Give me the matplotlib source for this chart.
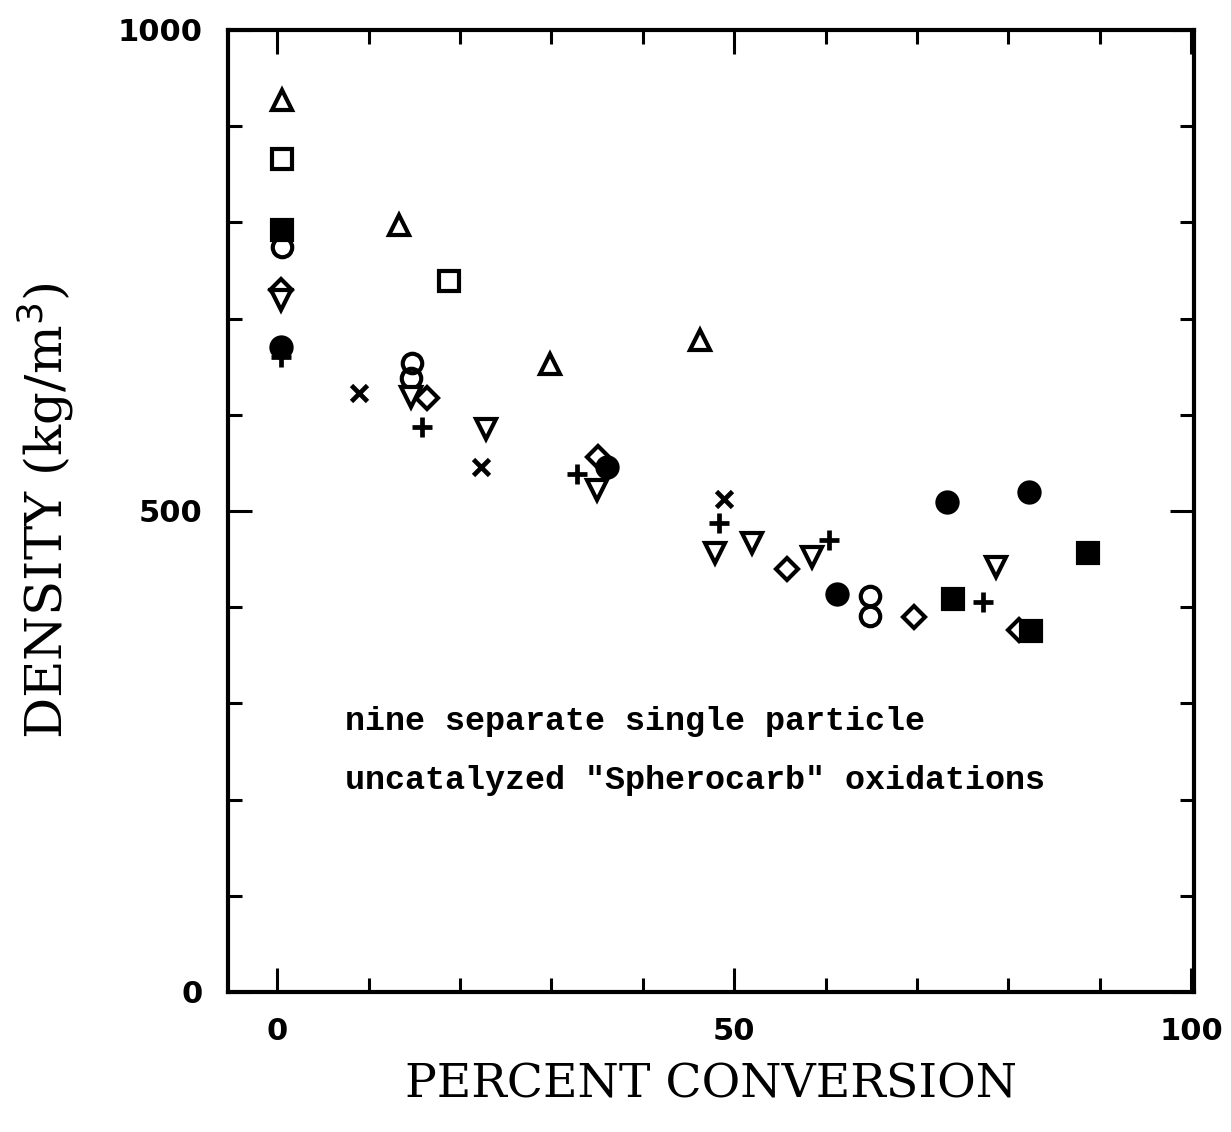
import matplotlib
matplotlib.use("Agg")
import matplotlib.pyplot as plt
from matplotlib.ticker import MultipleLocator, FixedLocator

# ---- data ----
tri_up_x = [0.5, 13.3, 29.9, 46.3]
tri_up_y = [927, 797, 653, 678]

sq_open_x = [0.5, 18.8]
sq_open_y = [866, 739]

sq_fill_x = [0.5, 73.9, 82.5, 88.7]
sq_fill_y = [792, 409, 375, 456]

circ_open_x = [0.5, 14.8, 14.7, 64.9, 64.9]
circ_open_y = [774, 654, 638, 412, 391]

diamond_x = [0.4, 16.4, 35.1, 55.8, 69.7, 81.2]
diamond_y = [730, 617, 556, 440, 390, 376]

tri_dn_x = [0.4, 14.6, 22.9, 35.0, 47.9, 51.9, 58.5, 78.6]
tri_dn_y = [719, 619, 585, 522, 456, 467, 452, 442]

circ_fill_x = [0.4, 36.1, 61.2, 73.3, 82.2]
circ_fill_y = [670, 546, 414, 509, 520]

cross_x = [9.0, 22.3, 48.9]
cross_y = [623, 546, 512]

plus_x = [0.4, 15.9, 32.8, 48.3, 60.4, 77.2]
plus_y = [660, 587, 538, 487, 470, 405]

x_ticklabels = ["0", "50", "100"]
y_ticklabels = ["0", "500", "1000"]
note_lines = ["nine separate single particle",
              "uncatalyzed \"Spherocarb\" oxidations"]

fig = plt.figure(figsize=(12.31, 11.32), dpi=100)
ax = fig.add_axes([0.185, 0.1237, 0.785, 0.8498])

ew = 3.0
common = dict(linestyle="none", color="black", markeredgewidth=ew)
ax.plot(tri_up_x, tri_up_y, marker="^", markersize=14.5, markerfacecolor="white", **common)
ax.plot(sq_open_x, sq_open_y, marker="s", markersize=14.5, markerfacecolor="white", **common)
ax.plot(circ_open_x, circ_open_y, marker="o", markersize=14, markerfacecolor="none", **common)
ax.plot(diamond_x, diamond_y, marker="D", markersize=11, markerfacecolor="white", **common)
ax.plot(tri_dn_x, tri_dn_y, marker="v", markersize=14.5, markerfacecolor="white", **common)
ax.plot(cross_x, cross_y, marker="x", markersize=11, markeredgewidth=3.4, linestyle="none", color="black")
ax.plot(plus_x, plus_y, marker="+", markersize=14, markeredgewidth=3.4, linestyle="none", color="black")
ax.plot(sq_fill_x, sq_fill_y, marker="s", markersize=14.5, markerfacecolor="black", **common)
ax.plot(circ_fill_x, circ_fill_y, marker="o", markersize=14.5, markerfacecolor="black", **common)

ax.set_xlim(-5.4, 100.3)
ax.set_ylim(0, 1000)

# ticks
ax.xaxis.set_major_locator(FixedLocator([0, 50, 100]))
ax.xaxis.set_minor_locator(MultipleLocator(10))
ax.yaxis.set_major_locator(FixedLocator([0, 500, 1000]))
ax.yaxis.set_minor_locator(MultipleLocator(100))
ax.set_xticklabels(x_ticklabels)
ax.set_yticklabels(y_ticklabels)
ax.tick_params(which="both", direction="in", top=True, right=True, width=2.2)
ax.tick_params(which="major", length=17, pad=18, labelsize=22)
ax.tick_params(which="minor", length=10)
for lbl in ax.get_xticklabels() + ax.get_yticklabels():
    lbl.set_fontweight("bold")
    lbl.set_family("DejaVu Sans")

for s in ax.spines.values():
    s.set_linewidth(3)

ax.set_xlabel("PERCENT CONVERSION", fontsize=34, family="DejaVu Serif", labelpad=12)
ax.set_ylabel("DENSITY (kg/m$^3$)", fontsize=37, family="DejaVu Serif", labelpad=30)

ax.text(7.4, 281, note_lines[0], fontsize=24, family="Liberation Mono",
        fontweight="bold", va="center", ha="left")
ax.text(7.4, 220, note_lines[1], fontsize=24, family="Liberation Mono",
        fontweight="bold", va="center", ha="left")

fig.savefig("out.png", dpi=100)
